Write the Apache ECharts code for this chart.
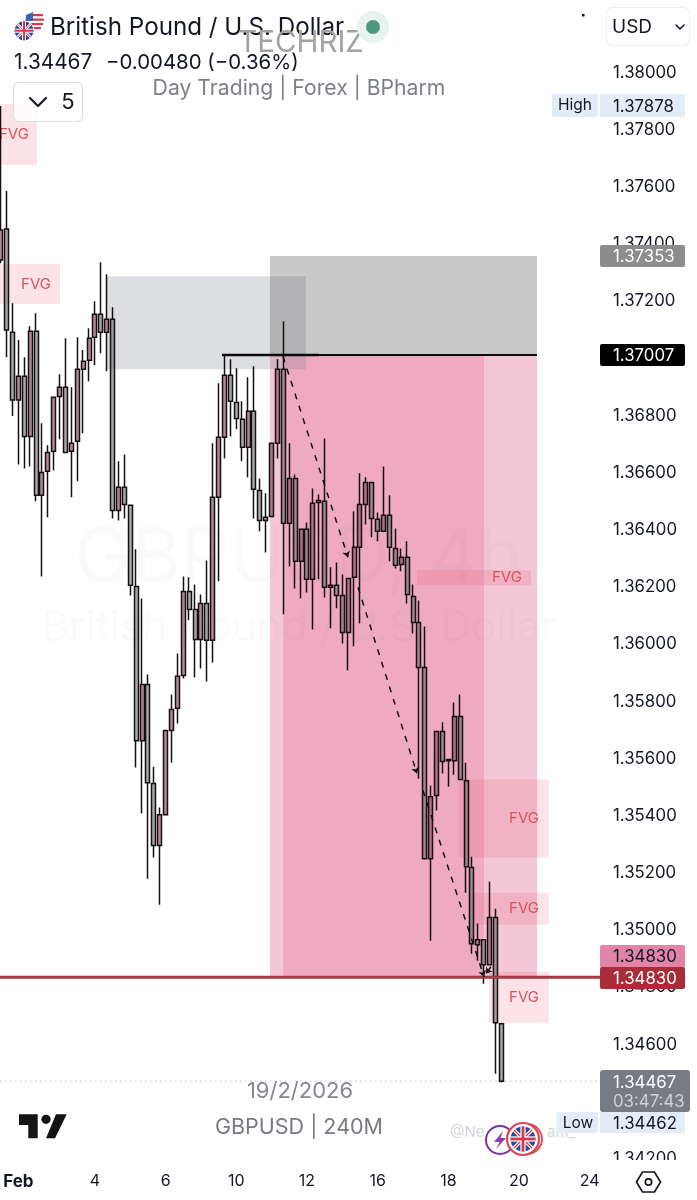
<!DOCTYPE html>
<html><head><meta charset="utf-8">
<style>html,body{margin:0;padding:0;background:#fff}#c{width:697px;height:1200px}</style>
<script src="https://cdn.jsdelivr.net/npm/echarts@6/dist/echarts.min.js"></script>
</head><body><div id="c"></div>
<script>
// candle values, oldest first (4H bars)
const opens = [1.37339,1.37447,1.37086,1.36849,1.36932,1.36722,1.37090,1.36516,1.36600,1.36670,1.36862,1.36894,1.36670,1.36705,1.36957,1.36988,1.37069,1.37149,1.37086,1.37132,1.36463,1.36544,1.36481,1.36197,1.35658,1.35854,1.35508,1.35291,1.35399,1.35693,1.35771,1.35886,1.36180,1.36117,1.36012,1.36138,1.36009,1.36509,1.36719,1.36936,1.36841,1.36782,1.36684,1.36810,1.36533,1.36428,1.36442,1.36698,1.36957,1.36418,1.36575,1.36285,1.36397,1.36222,1.36498,1.36495,1.36194,1.36201,1.36166,1.36036,1.36229,1.36334,1.36484,1.36561,1.36432,1.36390,1.36446,1.36330,1.36274,1.36299,1.36162,1.36071,1.35914,1.35245,1.35466,1.35690,1.35588,1.35588,1.35742,1.35518,1.35214,1.34944,1.34962,1.34874,1.35039,1.34668];
const closes = [1.37444,1.37094,1.36849,1.36932,1.36722,1.37090,1.36516,1.36596,1.36666,1.36859,1.36894,1.36666,1.36698,1.36957,1.36985,1.37065,1.37149,1.37086,1.37132,1.36463,1.36544,1.36484,1.36201,1.35658,1.35854,1.35511,1.35291,1.35399,1.35693,1.35767,1.35883,1.36180,1.36117,1.36012,1.36138,1.36009,1.36509,1.36719,1.36936,1.36845,1.36785,1.36684,1.36810,1.36537,1.36428,1.36439,1.36698,1.36957,1.36418,1.36575,1.36285,1.36397,1.36222,1.36488,1.36491,1.36194,1.36201,1.36166,1.36036,1.36225,1.36334,1.36484,1.36561,1.36435,1.36390,1.36446,1.36334,1.36271,1.36299,1.36169,1.36071,1.35914,1.35245,1.35462,1.35690,1.35585,1.35592,1.35742,1.35522,1.35217,1.34948,1.34962,1.34874,1.35039,1.34671,1.34467];
const lows = [1.37328,1.36999,1.36793,1.36624,1.36610,1.36617,1.36495,1.36232,1.36439,1.36603,1.36712,1.36663,1.36509,1.36565,1.36733,1.36915,1.36971,1.37013,1.36950,1.36435,1.36428,1.36435,1.36166,1.35564,1.35403,1.35175,1.35249,1.35084,1.35399,1.35581,1.35718,1.35875,1.36079,1.35879,1.35910,1.35865,1.35931,1.36215,1.36645,1.36722,1.36747,1.36635,1.36579,1.36435,1.36390,1.36316,1.36442,1.36645,1.36100,1.36267,1.36190,1.36155,1.36176,1.36047,1.36222,1.36159,1.36051,1.36121,1.35998,1.35903,1.35988,1.36068,1.36414,1.36369,1.36355,1.36390,1.36285,1.36260,1.36250,1.36138,1.36033,1.35525,1.35245,1.34958,1.35414,1.35543,1.35497,1.35539,1.35522,1.35126,1.34913,1.34888,1.34808,1.34874,1.34493,1.34462];
const highs = [1.37878,1.37580,1.37188,1.37059,1.36999,1.37107,1.37153,1.36768,1.36691,1.36862,1.36939,1.37065,1.36894,1.37069,1.37024,1.37100,1.37195,1.37331,1.37289,1.37174,1.36635,1.36659,1.36483,1.36327,1.36155,1.35889,1.35567,1.35424,1.35693,1.35819,1.35963,1.36232,1.36229,1.36204,1.36169,1.36288,1.36698,1.36908,1.37009,1.36992,1.36960,1.36845,1.36929,1.36967,1.36575,1.36523,1.36698,1.36992,1.37125,1.36698,1.36589,1.36397,1.36421,1.36540,1.36519,1.36715,1.36264,1.36281,1.36239,1.36225,1.36460,1.36593,1.36579,1.36561,1.36456,1.36617,1.36516,1.36400,1.36330,1.36355,1.36204,1.36148,1.36057,1.35501,1.35690,1.35722,1.35595,1.35791,1.35819,1.35581,1.35252,1.35018,1.34962,1.35165,1.35070,1.34671];

const barCount = 103;
const dateLabels = {3:'Feb',16:'4',28:'6',40:'10',52:'12',64:'16',76:'18',88:'20',100:'24'};
const priceTicks = {min:1.342, max:1.38, step:0.002};

// FVG zones
const fvgFrom  = [-0.4, -0.4, 70.67, 77.8, 80.18, 82.9];
const fvgTo    = [6.16, 10.06, 90.03, 93.08, 93.08, 93.08];
const fvgHigh  = [1.37885, 1.37325, 1.36254, 1.35522, 1.35126, 1.34850];
const fvgLow   = [1.37671, 1.37185, 1.36201, 1.35249, 1.35014, 1.34671];
const fvgTextAt= [2.25, 5.99, 85.95, 88.84, 88.84, 88.84];

// trade box and supply zone
const supplyZone = [17.87, 51.83, 1.37282, 1.36957];
const targetZone = [45.71, 91.05, 1.37353, 1.37007];
const stopZoneOuter = [45.71, 91.05, 1.37007, 1.34830];
const stopZoneInner = [47.92, 82.05, 1.37007, 1.34830];

const entry = 1.37007, stop = 1.34830, last = 1.34467;
const pathSegments = [
  [47.92,1.37002,58.96,1.36299],
  [60.66,1.36194,70.67,1.35543],
  [71.69,1.35484,82.05,1.34832],
  [83.24,1.34867,82.39,1.34843]
];

const FONT = 'Inter, "Noto Sans", sans-serif';
const categories = Array.from({length:barCount},(_,i)=>dateLabels[i]||'');
const candles = opens.map((o,i)=>[o,closes[i],lows[i],highs[i]]);
const indexRange = {min:0,max:barCount-1};
const lineStart = -0.12, lineEnd = 101.75;

const rectData = [];
const fillOuter='rgba(214,40,100,0.26)', fillInner='rgba(214,40,100,0.18)',
      fillSupply='rgba(120,123,134,0.25)', fillTarget='rgba(100,100,100,0.35)', fillFvg='rgba(228,60,85,0.14)';
rectData.push([...stopZoneOuter,fillOuter,'',0]);
rectData.push([...stopZoneInner,fillInner,'',0]);
fvgFrom.forEach((f,i)=>rectData.push([f,fvgTo[i],fvgHigh[i],fvgLow[i],fillFvg,'FVG',fvgTextAt[i]]));
rectData.push([...supplyZone,fillSupply,'',0]);
rectData.push([...targetZone,fillTarget,'',0]);

function renderZone(params,api){
  const a=api.coord([api.value(0),api.value(2)]), b=api.coord([api.value(1),api.value(3)]);
  const d=rectData[params.dataIndex];
  const kids=[{type:'rect',shape:{x:a[0],y:a[1],width:b[0]-a[0],height:b[1]-a[1]},style:{fill:d[4]}}];
  if(d[5]){
    const t=api.coord([d[6],(d[2]+d[3])/2]);
    kids.push({type:'text',x:t[0],y:t[1],z2:5,style:{text:d[5],fill:'#d9525f',font:'15px '+FONT,align:'center',verticalAlign:'middle'}});
  }
  return {type:'group',children:kids};
}

const G=[];
const T=(text,x,y,size,fill,o={})=>G.push({type:'text',x,y:y+1.5,z:o.z??100,style:{text,fill,font:(o.weight?o.weight+' ':'')+size+'px '+FONT,align:o.align||'left',verticalAlign:'middle'}});
const R=(x,y,w,h,fill,o={})=>G.push({type:'rect',x,y,z:o.z??100,shape:{width:w,height:h,r:o.r||0},style:{fill,stroke:o.stroke,lineWidth:o.lw||0}});
const C=(cx,cy,r,fill,o={})=>G.push({type:'circle',x:cx,y:cy,z:o.z??100,shape:{r},style:{fill:fill,stroke:o.stroke,lineWidth:o.lw||0}});
const L=(pts,stroke,lw,o={})=>G.push({type:'polyline',z:o.z??100,shape:{points:pts},style:{fill:'none',stroke,lineWidth:lw,lineCap:o.cap||'butt',lineJoin:'round'}});
const P=(pts,fill,o={})=>G.push({type:'polygon',z:o.z??100,shape:{points:pts},style:{fill,stroke:o.stroke,lineWidth:o.lw||0}});

function ukFlag(cx,cy,r,z){
  C(cx,cy,r,'#2a4b9b',{z});
  const k=r*0.72;
  L([[cx-k,cy-k],[cx+k,cy+k]],'#fff',r*0.28,{z:z+1}); L([[cx-k,cy+k],[cx+k,cy-k]],'#fff',r*0.28,{z:z+1});
  L([[cx-k,cy-k],[cx+k,cy+k]],'#d8384a',r*0.1,{z:z+1}); L([[cx-k,cy+k],[cx+k,cy-k]],'#d8384a',r*0.1,{z:z+1});
  L([[cx-r,cy],[cx+r,cy]],'#fff',r*0.42,{z:z+2}); L([[cx,cy-r],[cx,cy+r]],'#fff',r*0.42,{z:z+2});
  L([[cx-r,cy],[cx+r,cy]],'#d8384a',r*0.22,{z:z+3}); L([[cx,cy-r],[cx,cy+r]],'#d8384a',r*0.22,{z:z+3});
}

// watermarks (behind the marks)
T('GBPUSD, 4h',299,558,76,'#fafafa',{align:'center',z:-1});
T('British Pound / U.S. Dollar',299,627,42.4,'#fafafa',{align:'center',z:-1});

// header
C(33.5,21,9.5,'#fff',{z:100});
R(28,14,15,2.2,'#d8384a',{z:101}); R(27,18.5,17,2.2,'#d8384a',{z:101}); R(26,23,17,2.2,'#d8384a',{z:101}); R(28,27,13,2,'#d8384a',{z:101});
P([[26,15],[33,12],[33,21],[25.5,21]],'#3a66b0',{z:102});
C(24,30.7,10.3,'#fff',{z:103});
ukFlag(24,30.7,9.5,104);
T('British Pound / U.S. Dollar',50,26,24.2,'#131722');
T('1.34467',14,61,20.8,'#131722');
T('\u22120.00480 (\u22120.36%)',106,61,20.4,'#131722');
T('TECHRIZ',301,42,29.5,'#a3a3a3',{align:'center'});
T('Day Trading | Forex | BPharm',299,87,21.2,'#7d8088',{align:'center'});
C(373,27,16,'#e6f3ee'); C(373,27,7,'#4b9a80',{z:101});
R(13.5,82.5,69,39,'rgba(255,255,255,0.82)',{r:5,stroke:'#e0e0e0',lw:1.2});
L([[30,98],[38,106],[46,98]],'#131722',2.2,{cap:'round'});
T('5',68,101,22,'#131722',{align:'center'});
R(582,14,2.5,2.5,'#131722');
R(606.5,7.5,83,38,'#fff',{r:6,stroke:'#eceef0',lw:1.2});
T('USD',612,26,19,'#131722');
L([[676,25],[680,29],[684,25]],'#131722',1.6,{cap:'round'});

// lower band, clipping the 1.34200 label
R(0,1160,697,40,'#fff',{z:150});
T('19/2/2026',300,1089.5,22,'#85888f',{align:'center'});
T('GBPUSD | 240M',299,1126,21.5,'#787b82',{align:'center'});
P([[19,1114.3],[37.7,1114.3],[37.7,1138.3],[28.3,1138.3],[28.3,1125],[19,1125]],'#131313');
C(46,1119.3,4.6,'#131313');
P([[56,1114.3],[66.7,1114.3],[55,1138.3],[46,1138.3]],'#131313');
P([[636.5,1182],[642.5,1172],[654.5,1172],[660.5,1182],[654.5,1192],[642.5,1192]],'none',{stroke:'#131722',lw:1.7,z:160});
C(648.5,1182,3.2,'none',{stroke:'#131722',lw:1.7,z:160});

// channel badge cluster
T('@Ne',450,1131,15,'#d2d4d8');
T('am_',547,1131,15,'#d2d4d8');
C(500,1140,14,'#fff',{z:105,stroke:'#7b2fa8',lw:2});
P([[503,1131],[494,1142],[499.5,1142],[496,1149],[506,1138],[500.5,1138]],'#8a3fb5',{z:106});
C(527,1139,15,'#fff',{z:107,stroke:'#dc4450',lw:1.8});
C(523,1139,16,'#fff',{z:108,stroke:'#dc4450',lw:2.2});
ukFlag(523,1139,12.5,109);

// price badges
const BZ=160, BF=16.8;
R(552,94,46,23,'#e3edf9',{z:BZ}); T('High',575,104,15.5,'#131722',{align:'center',z:BZ+1});
R(600,94,85,23,'#e3edf9',{z:BZ}); T('1.37878',613,105,BF,'#131722',{z:BZ+1});
R(600,245,85,22,'#8c8c8c',{z:BZ,r:2}); T('1.37353',613,255.5,BF,'#fff',{z:BZ+1});
R(600,344,85,22,'#000',{z:BZ,r:2}); T('1.37007',613,354.5,BF,'#fff',{z:BZ+1});
R(600,945,85,23,'#e184a8',{z:BZ,r:2}); T('1.34830',613,955.5,BF,'#131722',{z:BZ+1});
R(600,967,85,22,'#a82d38',{z:BZ,r:2}); T('1.34830',613,977.5,BF,'#fff',{z:BZ+1});
R(600,1070,90,42,'#787b86',{z:BZ,r:3}); T('1.34467',613,1081,BF,'#fff',{z:BZ+1}); T('03:47:43',613,1100,BF,'#d0d2d8',{z:BZ+1});
R(557,1112,41,21,'#e3edf9',{z:BZ}); T('Low',578,1121.5,15.5,'#131722',{align:'center',z:BZ+1});
R(600,1112,85,21,'#e3edf9',{z:BZ}); T('1.34462',613,1122,BF,'#131722',{z:BZ+1});

const hline=(a,b,v,color,w,z,type)=>({type:'line',xAxisIndex:1,yAxisIndex:0,z,clip:false,silent:true,animation:false,symbol:'none',
  data:[[a,v],[b,v]],lineStyle:{color,width:w,type:type||'solid'}});

const option={
  animation:false,
  backgroundColor:'#fff',
  grid:{left:0.7,width:600.78,top:71,height:1086.5,containLabel:false,outerBoundsMode:'none'},
  xAxis:[
    {type:'category',data:categories,boundaryGap:false,z:170,
     axisLine:{show:false},axisTick:{show:false},splitLine:{show:false},
     axisLabel:{show:true,interval:0,margin:16,hideOverlap:false,color:'#131722',fontFamily:FONT,fontSize:16,
       formatter:v=>v==='Feb'?'{b|Feb}':v,rich:{b:{fontWeight:700,fontSize:17,color:'#131722',fontFamily:FONT}}}},
    {type:'value',show:false,min:indexRange.min,max:indexRange.max,splitLine:{show:false}}
  ],
  yAxis:{type:'value',position:'right',min:priceTicks.min,max:priceTicks.max,interval:priceTicks.step,scale:true,z:0,
    axisLine:{show:false},axisTick:{show:false},splitLine:{show:false},
    axisLabel:{margin:11.5,color:'#131722',fontFamily:FONT,fontSize:16.8,showMinLabel:true,showMaxLabel:true,
      formatter:v=>'{a|'+v.toFixed(5)+'}',
      rich:{a:{padding:[3,0,0,0],color:'#131722',fontFamily:FONT,fontSize:16.8}}}},
  series:[
    {type:'custom',xAxisIndex:1,yAxisIndex:0,z:1,silent:true,clip:false,renderItem:renderZone,
     encode:{x:[0,1],y:[2,3]},data:rectData.map(r=>r.slice(0,4))},
    {type:'candlestick',xAxisIndex:0,yAxisIndex:0,z:2,barWidth:4.5,clip:false,silent:true,data:candles,
     itemStyle:{color:'rgba(150,90,115,0.72)',color0:'rgba(110,110,110,0.6)',borderColor:'#161012',borderColor0:'#161012',borderWidth:1.5}},
    hline(37.56,54.03,entry,'#0c0c0c',2.5,3),
    hline(45.71,91.05,entry,'#0c0c0c',2,3),
    hline(lineStart,lineEnd,stop,'#a33a45',3,3),
    hline(lineStart,lineEnd,last,'#b8bbc2',1,1,[1.5,3.5]),
    {type:'line',xAxisIndex:1,yAxisIndex:0,z:4,silent:true,symbol:'none',data:[],
     markLine:{silent:true,animation:false,symbol:['none','arrow'],symbolSize:6,label:{show:false},
       lineStyle:{color:'#111',width:1.5,type:[6,7]},
       data:pathSegments.map(s=>[{coord:[s[0],s[1]]},{coord:[s[2],s[3]]}])}}
  ],
  graphic:{elements:G}
};
echarts.init(document.getElementById('c'),null,{renderer:'canvas'}).setOption(option);
</script></body></html>
